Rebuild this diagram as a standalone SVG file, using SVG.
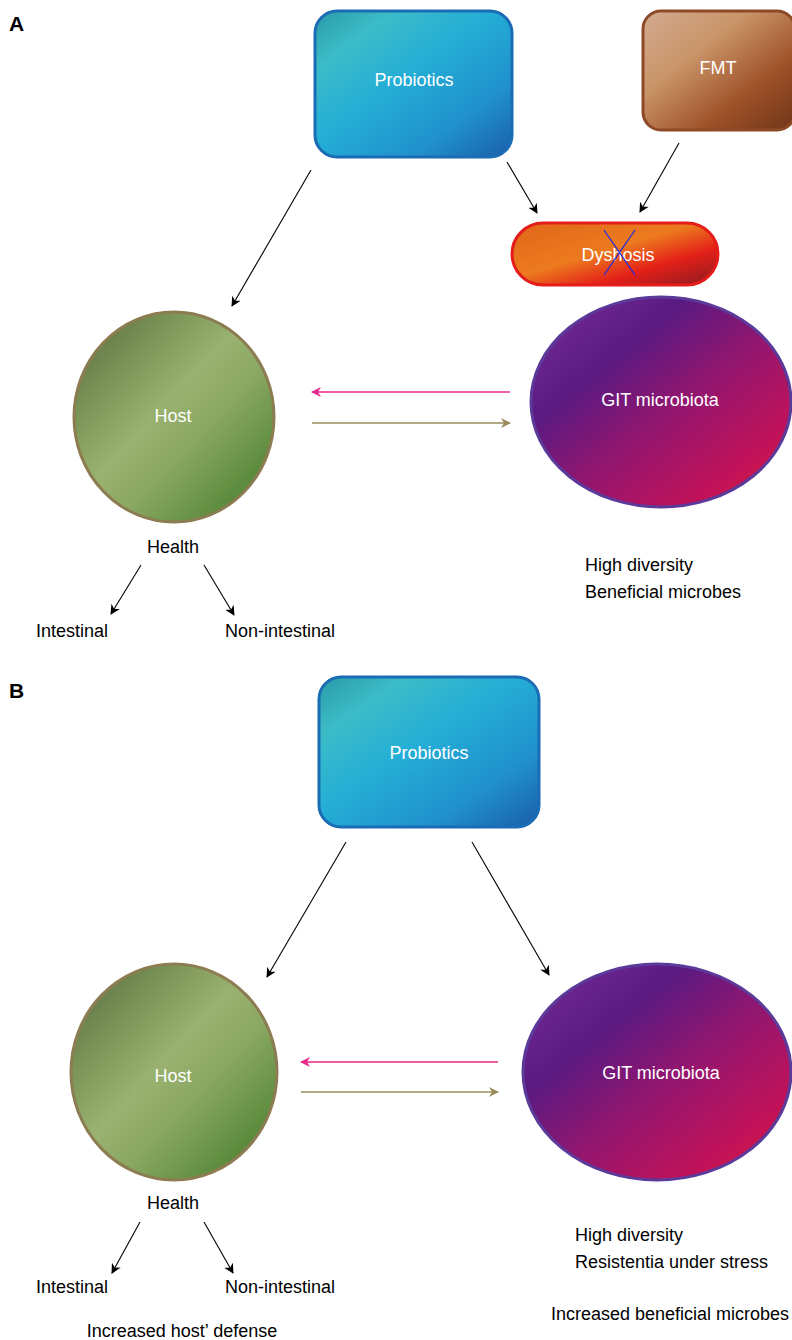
<svg xmlns="http://www.w3.org/2000/svg" width="792" height="1340" viewBox="0 0 792 1340">
<style>
.t{font-family:"Liberation Sans",Arial,sans-serif;font-size:18px;fill:#000}
.w{font-family:"Liberation Sans",Arial,sans-serif;font-size:18px;fill:#fff;text-anchor:middle;dominant-baseline:central}
.c{text-anchor:middle;dominant-baseline:central}
.lbl{font-family:"Liberation Sans",Arial,sans-serif;font-size:21px;font-weight:bold;fill:#000}
.ar{stroke:#000;stroke-width:1.1;fill:none;marker-end:url(#mk)}
.pk{stroke:#e8288a;stroke-width:1.4;fill:none;marker-end:url(#mkp)}
.ol{stroke:#9a8c5a;stroke-width:1.4;fill:none;marker-end:url(#mko)}
</style>
<defs>
<marker id="mk" viewBox="0 0 10 10" refX="9" refY="5" markerWidth="10" markerHeight="10" markerUnits="userSpaceOnUse" orient="auto"><path d="M0,0 L10,5 L0,10 L3,5 z" fill="#000"/></marker>
<marker id="mkp" viewBox="0 0 10 10" refX="9" refY="5" markerWidth="10" markerHeight="10" markerUnits="userSpaceOnUse" orient="auto"><path d="M0,0 L10,5 L0,10 L3,5 z" fill="#e8288a"/></marker>
<marker id="mko" viewBox="0 0 10 10" refX="9" refY="5" markerWidth="10" markerHeight="10" markerUnits="userSpaceOnUse" orient="auto"><path d="M0,0 L10,5 L0,10 L3,5 z" fill="#9a8c5a"/></marker>
<linearGradient id="gProb" x1="0" y1="0" x2="1" y2="1">
<stop offset="0" stop-color="#2a9aa8"/>
<stop offset="0.2" stop-color="#3cbcc8"/>
<stop offset="0.45" stop-color="#24aed6"/>
<stop offset="0.75" stop-color="#2090cc"/>
<stop offset="1" stop-color="#1a5ea6"/>
</linearGradient>
<linearGradient id="gFmt" x1="0" y1="0" x2="1" y2="1">
<stop offset="0" stop-color="#d4aa90"/>
<stop offset="0.35" stop-color="#c99468"/>
<stop offset="0.7" stop-color="#9e5028"/>
<stop offset="1" stop-color="#6e3618"/>
</linearGradient>
<linearGradient id="gDys" x1="0" y1="0" x2="1" y2="1">
<stop offset="0" stop-color="#e0661a"/>
<stop offset="0.45" stop-color="#ec7a1e"/>
<stop offset="0.7" stop-color="#e42018"/>
<stop offset="1" stop-color="#8a1a22"/>
</linearGradient>
<linearGradient id="gHost" x1="0" y1="0" x2="1" y2="1">
<stop offset="0" stop-color="#566640"/>
<stop offset="0.25" stop-color="#7a9456"/>
<stop offset="0.45" stop-color="#9ab270"/>
<stop offset="0.6" stop-color="#8aa862"/>
<stop offset="0.85" stop-color="#5a8a3c"/>
<stop offset="1" stop-color="#4a7a30"/>
</linearGradient>
<linearGradient id="gGit" x1="0" y1="0" x2="1" y2="1">
<stop offset="0" stop-color="#7a3098"/>
<stop offset="0.3" stop-color="#5a1a82"/>
<stop offset="0.55" stop-color="#94166e"/>
<stop offset="0.8" stop-color="#c0125a"/>
<stop offset="1" stop-color="#e81a30"/>
</linearGradient>
</defs>

<text class="lbl" x="9" y="31">A</text>
<text class="lbl" x="9" y="698">B</text>

<g id="probioticsA">
<rect x="315" y="11" width="197" height="146" rx="22" fill="url(#gProb)" stroke="#1a6cb4" stroke-width="3"/>
<text class="w" x="414" y="80">Probiotics</text>
</g>
<g id="fmt">
<rect x="643" y="11" width="152" height="119" rx="18" fill="url(#gFmt)" stroke="#8e4a26" stroke-width="3"/>
<text class="w" x="718" y="68">FMT</text>
</g>
<g id="dysbiosis">
<rect x="512" y="223" width="206" height="62" rx="31" fill="url(#gDys)" stroke="#e41c1a" stroke-width="3"/>
<text class="w" x="618" y="255">Dyshosis</text>
<line x1="604" y1="230" x2="635" y2="275" stroke="#1a2ae8" stroke-width="1.2"/>
<line x1="635" y1="230" x2="604" y2="275" stroke="#1a2ae8" stroke-width="1.2"/>
</g>
<g id="hostA">
<ellipse cx="174" cy="417" rx="100" ry="105" fill="url(#gHost)" stroke="#8c7c52" stroke-width="3"/>
<text class="w" x="173" y="416">Host</text>
</g>
<g id="gitA">
<ellipse cx="661" cy="402" rx="130" ry="105" fill="url(#gGit)" stroke="#5c3a9a" stroke-width="3"/>
<text class="w" x="660" y="400">GIT microbiota</text>
</g>
<g id="textsA">
<text class="t c" x="173" y="547">Health</text>
<text class="t c" x="72" y="631">Intestinal</text>
<text class="t c" x="280" y="631">Non-intestinal</text>
<text class="t" x="585" y="571">High diversity</text>
<text class="t" x="585" y="598">Beneficial microbes</text>
</g>

<g id="probioticsB">
<rect x="319" y="677" width="220" height="150" rx="22" fill="url(#gProb)" stroke="#1a6cb4" stroke-width="3"/>
<text class="w" x="429" y="753">Probiotics</text>
</g>
<g id="hostB">
<ellipse cx="174" cy="1072" rx="103" ry="108" fill="url(#gHost)" stroke="#8c7c52" stroke-width="3"/>
<text class="w" x="173" y="1076">Host</text>
</g>
<g id="gitB">
<ellipse cx="657" cy="1072" rx="134" ry="108" fill="url(#gGit)" stroke="#5c3a9a" stroke-width="3"/>
<text class="w" x="661" y="1073">GIT microbiota</text>
</g>
<g id="textsB">
<text class="t c" x="173" y="1203">Health</text>
<text class="t c" x="72" y="1287">Intestinal</text>
<text class="t c" x="280" y="1287">Non-intestinal</text>
<text class="t c" x="182" y="1331">Increased host’ defense</text>
<text class="t" x="575" y="1241">High diversity</text>
<text class="t" x="575" y="1268">Resistentia under stress</text>
<text class="t" x="551" y="1320">Increased beneficial microbes</text>
</g>

<g id="connectors">
<line class="ar" x1="311" y1="170" x2="232" y2="306"/>
<line class="ar" x1="507" y1="162" x2="537" y2="213"/>
<line class="ar" x1="679" y1="143" x2="640" y2="212"/>
<line class="pk" x1="510" y1="392" x2="312" y2="392"/>
<line class="ol" x1="312" y1="423" x2="510" y2="423"/>
<line class="ar" x1="141" y1="565" x2="111" y2="614"/>
<line class="ar" x1="204" y1="565" x2="234" y2="615"/>
<line class="ar" x1="346" y1="842" x2="267" y2="977"/>
<line class="ar" x1="472" y1="842" x2="549" y2="975"/>
<line class="pk" x1="498" y1="1062" x2="301" y2="1062"/>
<line class="ol" x1="301" y1="1092" x2="498" y2="1092"/>
<line class="ar" x1="140" y1="1222" x2="112" y2="1273"/>
<line class="ar" x1="204" y1="1222" x2="233" y2="1273"/>
</g>
</svg>
